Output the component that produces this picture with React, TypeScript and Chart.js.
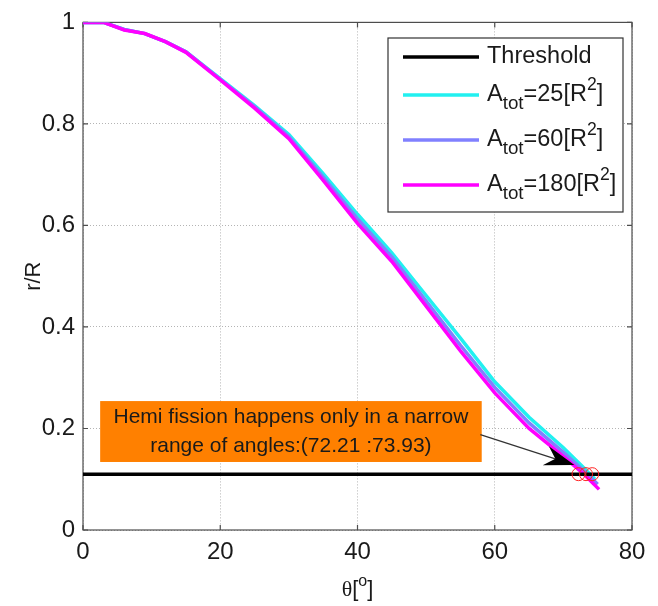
import React, { useEffect, useRef } from "react";
import { Chart, registerables } from "chart.js";

Chart.register(...registerables);

// ---- data ----
const THETA_25 = [0, 3, 6, 9, 12, 15, 20, 25, 30, 35, 40, 45, 50, 55, 60, 65, 70, 73, 74.6];
const R_25 = [1, 1, 0.986, 0.978, 0.962, 0.942, 0.889, 0.836, 0.779, 0.702, 0.622, 0.546, 0.462, 0.378, 0.292, 0.222, 0.162, 0.122, 0.1];
const THETA_60 = [0, 3, 6, 9, 12, 15, 20, 25, 30, 35, 40, 45, 50, 55, 60, 65, 70, 73, 75];
const R_60 = [1, 1, 0.986, 0.978, 0.962, 0.942, 0.888, 0.834, 0.775, 0.695, 0.613, 0.538, 0.451, 0.364, 0.281, 0.211, 0.153, 0.116, 0.09];
const THETA_180 = [0, 3, 6, 9, 12, 15, 20, 25, 30, 35, 40, 45, 50, 55, 60, 65, 70, 73, 75.2];
const R_180 = [1, 1, 0.985, 0.978, 0.962, 0.941, 0.887, 0.831, 0.771, 0.689, 0.604, 0.529, 0.441, 0.353, 0.27, 0.2, 0.145, 0.11, 0.08];
const THRESHOLD = 0.11;
const THRESHOLD_RANGE = [0, 80];
const FISSION_THETA = [72.21, 73.3, 74.2];

const SERIES_NAMES = ["Threshold", "A_tot=25[R^2]", "A_tot=60[R^2]", "A_tot=180[R^2]"];
const SERIES_COLORS = ["#000000", "#22f0f0", "#8080ff", "#ff00ff"];

const X_TICKS = [0, 20, 40, 60, 80];
const Y_TICKS = [0, 0.2, 0.4, 0.6, 0.8, 1];

const NOTE_LINES = ["Hemi fission happens only in a narrow", "range of angles:(72.21 :73.93)"];
const NOTE_BOX = { x0: 2.5, x1: 58.1, y0: 0.134, y1: 0.254 };
const NOTE_ARROW = { x0: 57.9, y0: 0.188, x1: 71.6, y1: 0.128 };

const FONT = "'Liberation Sans', Arial, sans-serif";

function zip(xs: number[], ys: number[]) {
  return xs.map((x, i) => ({ x, y: ys[i] }));
}

// draw text with _sub and ^sup segments
function drawRich(ctx: CanvasRenderingContext2D, text: string, x: number, y: number, size: number) {
  const re = /(_[a-z0-9]+|\^[a-z0-9]+)/gi;
  const parts = text.split(re).filter((p) => p.length);
  let cx = x;
  for (const p of parts) {
    if (p[0] === "_") {
      ctx.font = `${size * 0.8}px ${FONT}`;
      ctx.fillText(p.slice(1), cx, y + size * 0.38);
      cx += ctx.measureText(p.slice(1)).width;
    } else if (p[0] === "^") {
      ctx.font = `${size * 0.75}px ${FONT}`;
      ctx.fillText(p.slice(1), cx, y - size * 0.4);
      cx += ctx.measureText(p.slice(1)).width;
    } else {
      ctx.font = `${size}px ${FONT}`;
      ctx.fillText(p, cx, y);
      cx += ctx.measureText(p).width;
    }
  }
}

const framePlugin = {
  id: "frame",
  beforeDatasetsDraw(chart: any) {
    const { ctx, chartArea: a, scales } = chart;
    ctx.save();
    ctx.strokeStyle = "#4d4d4d";
    ctx.lineWidth = 1.2;
    ctx.strokeRect(a.left, a.top, a.right - a.left, a.bottom - a.top);
    // inward ticks
    const tl = 5;
    ctx.beginPath();
    for (const t of X_TICKS) {
      const px = scales.x.getPixelForValue(t);
      ctx.moveTo(px, a.bottom);
      ctx.lineTo(px, a.bottom - tl);
      ctx.moveTo(px, a.top);
      ctx.lineTo(px, a.top + tl);
    }
    for (const t of Y_TICKS) {
      const py = scales.y.getPixelForValue(t);
      ctx.moveTo(a.left, py);
      ctx.lineTo(a.left + tl, py);
      ctx.moveTo(a.right, py);
      ctx.lineTo(a.right - tl, py);
    }
    ctx.stroke();
    ctx.restore();
  },
  afterDatasetsDraw(chart: any) {
    const { ctx, chartArea: a, scales } = chart;
    const sx = scales.x, sy = scales.y;
    ctx.save();
    // annotation box
    const bx0 = sx.getPixelForValue(NOTE_BOX.x0), bx1 = sx.getPixelForValue(NOTE_BOX.x1);
    const by0 = sy.getPixelForValue(NOTE_BOX.y1), by1 = sy.getPixelForValue(NOTE_BOX.y0);
    ctx.fillStyle = "#ff8000";
    ctx.fillRect(bx0, by0, bx1 - bx0, by1 - by0);
    ctx.fillStyle = "#1a1a1a";
    ctx.font = `21px ${FONT}`;
    ctx.textAlign = "center";
    ctx.textBaseline = "middle";
    const cxm = (bx0 + bx1) / 2;
    ctx.fillText(NOTE_LINES[0], cxm, by0 + 16);
    ctx.fillText(NOTE_LINES[1], cxm, by0 + 45);
    // arrow
    const ax0 = sx.getPixelForValue(NOTE_ARROW.x0), ay0 = sy.getPixelForValue(NOTE_ARROW.y0);
    const ax1 = sx.getPixelForValue(NOTE_ARROW.x1), ay1 = sy.getPixelForValue(NOTE_ARROW.y1);
    const ang = Math.atan2(ay1 - ay0, ax1 - ax0);
    ctx.strokeStyle = "#333";
    ctx.lineWidth = 1.2;
    ctx.beginPath();
    ctx.moveTo(ax0, ay0);
    ctx.lineTo(ax1 - 20 * Math.cos(ang), ay1 - 20 * Math.sin(ang));
    ctx.stroke();
    const L = 30, W = 10, N = 20;
    const ux = Math.cos(ang), uy = Math.sin(ang);
    const nx = -uy, ny = ux;
    ctx.fillStyle = "#000";
    ctx.beginPath();
    ctx.moveTo(ax1, ay1);
    ctx.lineTo(ax1 - L * ux + W * nx, ay1 - L * uy + W * ny);
    ctx.lineTo(ax1 - N * ux, ay1 - N * uy);
    ctx.lineTo(ax1 - L * ux - W * nx, ay1 - L * uy - W * ny);
    ctx.closePath();
    ctx.fill();

    // legend
    const lx = 388, ly = 38, lw = 235, lh = 174;
    ctx.fillStyle = "#fff";
    ctx.fillRect(lx, ly, lw, lh);
    ctx.strokeStyle = "#333";
    ctx.lineWidth = 1.2;
    ctx.strokeRect(lx, ly, lw, lh);
    const rows = [57, 95, 140, 185];
    ctx.textAlign = "left";
    ctx.textBaseline = "middle";
    SERIES_NAMES.forEach((name, i) => {
      const y = rows[i];
      ctx.strokeStyle = SERIES_COLORS[i];
      ctx.lineWidth = 3.5;
      ctx.beginPath();
      ctx.moveTo(403, y);
      ctx.lineTo(479, y);
      ctx.stroke();
      ctx.fillStyle = "#1a1a1a";
      drawRich(ctx, name, 487, y, 23.5);
    });

    // axis titles
    ctx.fillStyle = "#1a1a1a";
    ctx.save();
    ctx.translate(34, (a.top + a.bottom) / 2);
    ctx.rotate(-Math.PI / 2);
    ctx.textAlign = "center";
    ctx.font = `22px ${FONT}`;
    ctx.fillText("r/R", 0, 0);
    ctx.restore();
    // x title: θ[°] with superscript o
    const tx = (a.left + a.right) / 2, ty = 590;
    ctx.textAlign = "left";
    ctx.font = `22px 'Liberation Serif', serif`;
    const wTheta = ctx.measureText("θ").width;
    ctx.font = `22px ${FONT}`;
    const wB = ctx.measureText("[").width;
    ctx.font = `16px ${FONT}`;
    const wO = ctx.measureText("o").width;
    const total = wTheta + 2 * wB + wO;
    let cx = tx - total / 2;
    ctx.font = `22px 'Liberation Serif', serif`;
    ctx.fillText("θ", cx, ty);
    cx += wTheta;
    ctx.font = `22px ${FONT}`;
    ctx.fillText("[", cx, ty);
    cx += wB;
    ctx.font = `16px ${FONT}`;
    ctx.fillText("o", cx, ty - 8);
    cx += wO;
    ctx.font = `22px ${FONT}`;
    ctx.fillText("]", cx, ty);
    ctx.restore();
  },
};

export default function App() {
  const ref = useRef<HTMLCanvasElement>(null);
  useEffect(() => {
    const canvas = ref.current!;
    const chart = new Chart(canvas, {
      type: "scatter",
      data: {
        datasets: [
          {
            label: SERIES_NAMES[3],
            data: zip(THETA_180, R_180),
            showLine: true,
            borderColor: SERIES_COLORS[3],
            borderWidth: 3.5,
            pointRadius: 0,
            order: 1,
          },
          {
            label: SERIES_NAMES[2],
            data: zip(THETA_60, R_60),
            showLine: true,
            borderColor: SERIES_COLORS[2],
            borderWidth: 3.5,
            pointRadius: 0,
            order: 2,
          },
          {
            label: SERIES_NAMES[1],
            data: zip(THETA_25, R_25),
            showLine: true,
            borderColor: SERIES_COLORS[1],
            borderWidth: 3.5,
            pointRadius: 0,
            order: 3,
          },
          {
            label: SERIES_NAMES[0],
            data: THRESHOLD_RANGE.map((x) => ({ x, y: THRESHOLD })),
            showLine: true,
            borderColor: SERIES_COLORS[0],
            borderWidth: 3.5,
            pointRadius: 0,
            order: 0,
          },
          {
            label: "fission",
            data: FISSION_THETA.map((x) => ({ x, y: THRESHOLD })),
            showLine: false,
            pointRadius: 6.5,
            pointStyle: "circle",
            pointBorderColor: "#ff2020",
            pointBackgroundColor: "rgba(0,0,0,0)",
            pointBorderWidth: 1,
            order: -1,
          },
        ],
      },
      options: {
        responsive: false,
        animation: false,
        layout: { padding: { left: 0, top: 22, right: 26, bottom: 0 } },
        plugins: { legend: { display: false }, tooltip: { enabled: false } },
        scales: {
          x: {
            type: "linear",
            min: 0,
            max: 80,
            afterBuildTicks: (s: any) => {
              s.ticks = X_TICKS.map((v) => ({ value: v }));
            },
            afterFit: (s: any) => {
              s.height = 76;
            },
            grid: { color: "#b4b4b4", drawTicks: false, lineWidth: 1 },
            border: { display: true, color: "rgba(0,0,0,0)", dash: [1, 2] },
            ticks: {
              padding: 8,
              color: "#1a1a1a",
              font: { family: FONT, size: 24 },
              callback: (v: any) => String(v),
            },
          },
          y: {
            type: "linear",
            min: 0,
            max: 1,
            afterBuildTicks: (s: any) => {
              s.ticks = Y_TICKS.map((v) => ({ value: v }));
            },
            afterFit: (s: any) => {
              s.width = 83;
            },
            grid: { color: "#b4b4b4", drawTicks: false, lineWidth: 1 },
            border: { display: true, color: "rgba(0,0,0,0)", dash: [1, 2] },
            ticks: {
              padding: 8,
              color: "#1a1a1a",
              font: { family: FONT, size: 24 },
              callback: (v: any) => String(v),
            },
          },
        },
      },
      plugins: [framePlugin],
    } as any);
    return () => chart.destroy();
  }, []);
  return (
    <div style={{ position: "absolute", left: 0, top: 0, width: 658, height: 606, background: "#fff" }}>
      <canvas ref={ref} width={658} height={606} style={{ display: "block" }} />
    </div>
  );
}
